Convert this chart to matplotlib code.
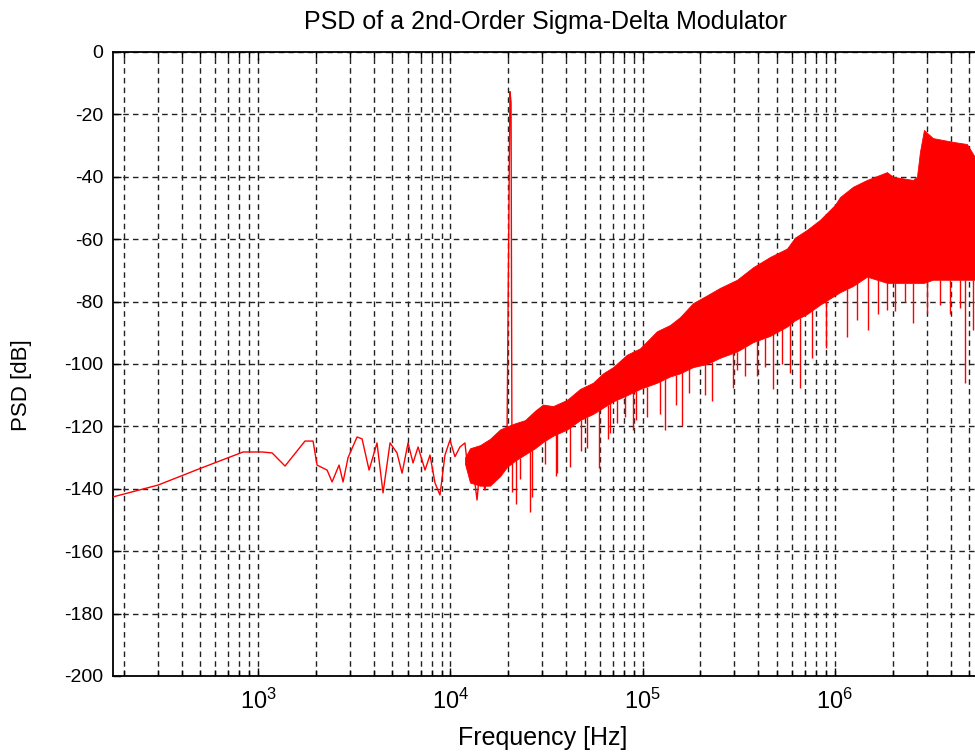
import numpy as np
import matplotlib
matplotlib.use('Agg')
import matplotlib.pyplot as plt
from matplotlib.ticker import LogLocator, NullFormatter, FixedLocator

plt.rcParams['font.family'] = ['Liberation Sans', 'DejaVu Sans']
plt.rcParams['mathtext.fontset'] = 'custom'
plt.rcParams['mathtext.rm'] = 'Liberation Sans'
plt.rcParams['mathtext.it'] = 'Liberation Sans'

# Low frequency part: a single thin trace, incl. the input tone near 20 kHz
line_freq = [176, 302, 499, 836, 1050, 1183, 1381, 1754, 1932, 2027, 2286,
             2426, 2638, 2767, 2938, 3272, 3475, 3779, 4155, 4467, 4857,
             5280, 5610, 6027, 6398, 6795, 7387, 7838, 8321, 8834, 9378,
             9956, 10570, 11220, 11910, 12350, 13110, 13770, 14260, 15140,
             16070, 17060, 18110, 18780, 19720, 20420, 20690, 20900, 21300]
line_psd = [-142.6, -138.8, -133.5, -128.2, -128.2, -128.5, -132.7, -124.7,
            -124.7, -132.4, -134.0, -137.8, -132.4, -137.8, -130.0, -123.4,
            -124.0, -134.0, -125.3, -141.3, -125.3, -128.5, -135.0, -125.3,
            -131.7, -126.6, -134.0, -129.2, -138.1, -142.0, -129.2, -124.4,
            -129.7, -126.6, -125.3, -134.0, -133.0, -143.6, -133.0, -140.4,
            -127.6, -133.0, -126.6, -130.8, -122.0, -12.7, -16.2, -120.0,
            -126.0]

# Dense noise band (shaped quantisation noise): upper and lower edges
band_freq = [11920, 12660, 14270, 16080, 18130, 19720, 21710, 24460, 27570,
             30350, 34210, 40450, 47260, 55230, 62250, 70180, 82970, 96940,
             118800, 138800, 156500, 182900, 216200, 252700, 309700, 375100,
             459700, 563500, 620100, 715900, 836600, 1001000, 1063000,
             1242000, 1469000, 1866000, 2005000, 2547000, 2673000, 2770000,
             2906000, 3237000, 4113000, 4863000, 5353000, 6405000]
band_hi = [-130, -127, -126, -124, -121, -120, -119, -118, -115, -113,
           -113.5, -111.5, -108, -106, -103, -101, -97, -95, -89.5, -87.5,
           -85, -80.5, -78, -75.6, -73, -69, -65.7, -63, -59.5, -57, -53.8,
           -49, -46.5, -43.2, -41, -38.5, -40, -41, -40, -32, -25, -27.6,
           -28.8, -29.5, -33.7, -34]
band_lo = [-132, -138, -139, -139, -136, -133, -131, -129, -127, -125, -123,
           -121, -118, -116, -114, -112, -110, -108, -106, -104, -103, -101,
           -100, -98, -96, -93, -91, -88, -86, -84, -81, -78, -77, -75, -72,
           -74, -74, -74, -74, -74, -74, -73, -73, -73, -73, -73]

# Isolated deep notches below the noise band
spike_freq = [20940, 22000, 23040, 25900, 26600, 31080, 35500, 35870, 41900,
              48000, 51380, 59300, 66000, 67710, 73620, 80900, 89170, 92000,
              105000, 123200, 131000, 149200, 160000, 175000, 211100, 229600,
              295000, 309700, 340800, 393000, 433000, 477000, 530800, 584000,
              658000, 760000, 899000, 1155000, 1303000, 1486000, 1675000,
              1870000, 2053000, 2315000, 2550000, 3010000, 3520000, 3967000,
              4473000, 4750000, 5220000]
spike_psd = [-141, -145, -137, -147.4, -142.6, -132, -136, -135, -133, -128,
             -127, -133.3, -124, -122, -119, -117, -121, -118, -117, -116,
             -121, -113, -120, -109.3, -110, -112, -107.7, -102, -104, -104,
             -101, -108, -100, -103, -107.7, -98, -95, -91.3, -86, -89, -84,
             -82.7, -83, -80, -86.9, -83.7, -81, -84, -82, -106, -89]

xticks = [1e3, 1e4, 1e5, 1e6]
xticklabels = ['$10^{3}$', '$10^{4}$', '$10^{5}$', '$10^{6}$']
yticks = list(range(-200, 1, 20))

fig = plt.figure(figsize=(9.75, 7.55), dpi=100)
# axes run past the right edge of the picture, as in the cropped original
ax = fig.add_axes([113 / 975, 1 - 676 / 755, (990 - 113) / 975, 624 / 755])

red = '#ff0000'
ax.fill_between(band_freq, band_lo, band_hi, color=red, lw=0.6, zorder=2)
top = np.interp(np.log10(spike_freq), np.log10(band_freq), band_lo)
ax.vlines(spike_freq, spike_psd, top, color=red, lw=1.0, zorder=2)
ax.plot(line_freq, line_psd, color=red, lw=1.0, zorder=3)

ax.set_xscale('log')
ax.set_xlim(176, 6.41e6)
ax.set_ylim(-200, 0)

ax.xaxis.set_major_locator(FixedLocator(xticks))
ax.set_xticklabels(xticklabels, fontsize=17)
ax.xaxis.set_minor_locator(LogLocator(base=10, subs=np.arange(2, 10)))
ax.xaxis.set_minor_formatter(NullFormatter())
ax.set_yticks(yticks)
ax.set_yticklabels([str(v) for v in yticks], fontsize=14)

ax.tick_params(which='both', direction='in', top=True, right=True, width=1.0)
ax.tick_params(which='major', length=6)
ax.tick_params(which='minor', length=4)
ax.tick_params(axis='x', pad=9)
ax.tick_params(axis='y', pad=7)

grid_style = dict(color='#222222', linestyle=(0, (4, 3)), linewidth=1.0)
ax.grid(True, which='both', axis='x', **grid_style)
ax.grid(True, which='major', axis='y', **grid_style)

for s in ax.spines.values():
  s.set_linewidth(1.3)

fig.text(545 / 975, 1 - 22 / 755, 'PSD of a 2nd-Order Sigma-Delta Modulator',
         ha='center', va='center', fontsize=18)
fig.text(543 / 975, 1 - 738 / 755, 'Frequency [Hz]', ha='center',
         va='center', fontsize=18)
fig.text(22 / 975, 1 - 385 / 755, 'PSD [dB]', ha='center', va='center',
         rotation=90, fontsize=16)

fig.savefig('out.png', dpi=100)
